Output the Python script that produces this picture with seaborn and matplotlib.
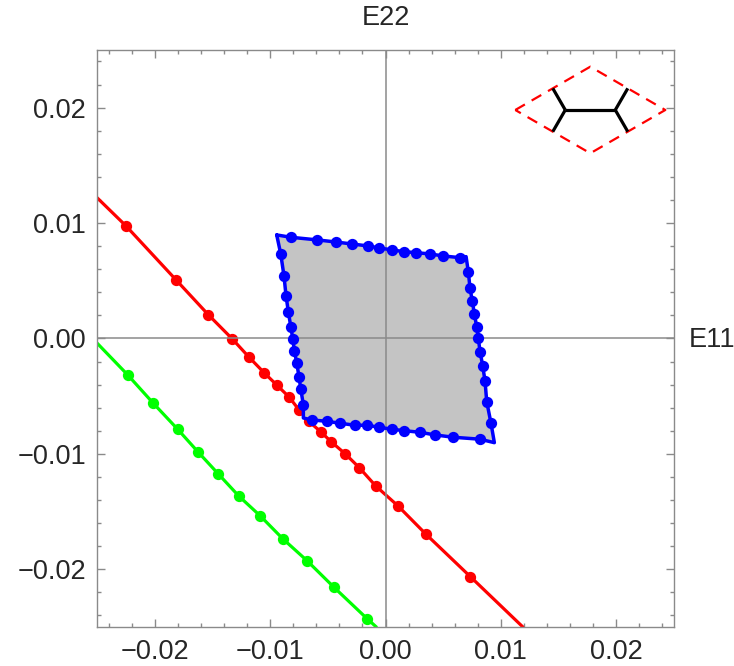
import matplotlib
matplotlib.use("Agg")
import matplotlib.pyplot as plt
import numpy as np
import pandas as pd
import seaborn as sns
from matplotlib.ticker import MultipleLocator, FuncFormatter

# red line: sample points and the two ends where it leaves the frame
red_x = [-0.02251, -0.01815, -0.01536, -0.01328, -0.01185, -0.01050, -0.00940, -0.00836,
         -0.00752, -0.00665, -0.00562, -0.00472, -0.00348, -0.00227, -0.00085, 0.00108,
         0.00351, 0.00735]
red_y = [0.00977, 0.00507, 0.00206, -0.00004, -0.00160, -0.00299, -0.00406, -0.00507,
         -0.00616, -0.00718, -0.00808, -0.00894, -0.01001, -0.01120, -0.01278, -0.01451,
         -0.01697, -0.02064]
red_ends_x = [-0.0250, 0.0119]
red_ends_y = [0.0122, -0.0250]

# green line
green_x = [-0.02234, -0.02012, -0.01801, -0.01625, -0.01449, -0.01272, -0.01085, -0.00891,
           -0.00680, -0.00449, -0.00160]
green_y = [-0.00316, -0.00562, -0.00787, -0.00983, -0.01174, -0.01365, -0.01538, -0.01735,
           -0.01926, -0.02154, -0.02428]
green_ends_x = [-0.0250, -0.0008]
green_ends_y = [-0.0004, -0.0250]

# blue region: corners (TL, TR, BR, BL) and the sampled points along each side
blue_corner_x = [-0.00943, 0.00698, 0.00943, -0.00712]
blue_corner_y = [0.00897, 0.00709, -0.00903, -0.00689]
top_x = [-0.00821, -0.00591, -0.00432, -0.00293, -0.00154, -0.00054, 0.00059, 0.00160,
         0.00262, 0.00386, 0.00501, 0.00646]
top_y = [0.00877, 0.00854, 0.00836, 0.00819, 0.00802, 0.00784, 0.00767, 0.00752,
         0.00744, 0.00732, 0.00715, 0.00700]
right_x = [0.00718, 0.00732, 0.00752, 0.00770, 0.00790, 0.00804, 0.00819, 0.00842, 0.00862,
           0.00877, 0.00914]
right_y = [0.00574, 0.00435, 0.00325, 0.00210, 0.00102, 0.00002, -0.00114, -0.00236, -0.00368,
           -0.00548, -0.00735]
bottom_x = [0.00819, 0.00588, 0.00429, 0.00299, 0.00160, 0.00059, -0.00054, -0.00158, -0.00264,
            -0.00394, -0.00504, -0.00640]
bottom_y = [-0.00873, -0.00856, -0.00836, -0.00813, -0.00799, -0.00787, -0.00770, -0.00752,
            -0.00752, -0.00735, -0.00718, -0.00706]
left_x = [-0.00712, -0.00735, -0.00750, -0.00769, -0.00790, -0.00804, -0.00821, -0.00842,
          -0.00862, -0.00880, -0.00908]
left_y = [-0.00576, -0.00435, -0.00331, -0.00215, -0.00106, -0.00002, 0.00102, 0.00230,
          0.00368, 0.00542, 0.00732]

# inset: honeycomb unit cell, in units of the bond length
cell_x = [-1.5, 0.0, 1.5, 0.0, -1.5]
cell_y = [0.0, 0.866, 0.0, -0.866, 0.0]
bond_x = [[-0.5, 0.5], [-0.75, -0.5], [-0.75, -0.5], [0.5, 0.75], [0.5, 0.75]]
bond_y = [[0.0, 0.0], [0.433, 0.0], [-0.433, 0.0], [0.0, 0.433], [0.0, -0.433]]

sns.set_style("ticks")
plt.rcParams['font.family'] = ['Liberation Sans', 'DejaVu Sans']
plt.rcParams['axes.unicode_minus'] = True

frame_col = '#8a8a8a'
fig = plt.figure(figsize=(7.34, 6.66), dpi=100)
ax = fig.add_axes([0.1322, 0.0586, 0.7861, 0.8664])

# lines run through the sample points out to the frame
red_path = pd.DataFrame({'x': red_ends_x[:1] + red_x + red_ends_x[1:],
                         'y': red_ends_y[:1] + red_y + red_ends_y[1:]})
green_path = pd.DataFrame({'x': green_ends_x[:1] + green_x + green_ends_x[1:],
                           'y': green_ends_y[:1] + green_y + green_ends_y[1:]})
sns.lineplot(data=red_path, x='x', y='y', sort=False, estimator=None, color='#ff0000', lw=2.3, ax=ax, zorder=2)
sns.scatterplot(x=red_x, y=red_y, color='#ff0000', s=66, linewidth=0, ax=ax, zorder=3)
sns.lineplot(data=green_path, x='x', y='y', sort=False, estimator=None, color='#00ff00', lw=2.3, ax=ax, zorder=2)
sns.scatterplot(x=green_x, y=green_y, color='#00ff00', s=66, linewidth=0, ax=ax, zorder=3)

# blue region outline: corner, side points, corner, ...
cx, cy = blue_corner_x, blue_corner_y
outline_x = [cx[0]] + top_x + [cx[1]] + right_x + [cx[2]] + bottom_x + [cx[3]] + left_x + [cx[0]]
outline_y = [cy[0]] + top_y + [cy[1]] + right_y + [cy[2]] + bottom_y + [cy[3]] + left_y + [cy[0]]
ax.fill(outline_x, outline_y, color='#c4c4c4', zorder=4)
ax.axhline(0, color=frame_col, lw=1.1, zorder=4.5)
ax.axvline(0, color=frame_col, lw=1.1, zorder=4.5)
ax.plot(outline_x, outline_y, color='#0000ff', lw=2.5, zorder=5)
sns.scatterplot(x=top_x + right_x + bottom_x + left_x, y=top_y + right_y + bottom_y + left_y,
                color='#0000ff', s=66, linewidth=0, ax=ax, zorder=6)

ax.set_xlim(-0.025, 0.025)
ax.set_ylim(-0.025, 0.025)
ax.set_xlabel('')
ax.set_ylabel('')

fmt = FuncFormatter(lambda v, p: '0.00' if abs(v) < 1e-9 else f'{v:.2f}'.replace('-', '\u2212'))
for axis in (ax.xaxis, ax.yaxis):
    axis.set_major_locator(MultipleLocator(0.01))
    axis.set_minor_locator(MultipleLocator(0.002))
    axis.set_major_formatter(fmt)
ax.tick_params(which='both', direction='in', top=True, right=True, color=frame_col, width=1)
ax.tick_params(which='major', length=6, labelsize=19.5, pad=9)
ax.tick_params(which='minor', length=3)
ax.tick_params(axis='y', which='major', pad=8)
for sp in ax.spines.values():
    sp.set_color(frame_col)
    sp.set_linewidth(1)

ax.text(0, 0.0278, 'E22', ha='center', va='center', fontsize=19.5, clip_on=False)
ax.text(0.0283, -0.0001, 'E11', ha='center', va='center', fontsize=19.5, clip_on=False)

# inset cell drawing
ins = fig.add_axes([0.6952, 0.7673, 0.218, 0.1351])
ins.plot(cell_x, cell_y, color='#ff0000', lw=1.6, ls=(0, (5, 3.5)))
for bx, by in zip(bond_x, bond_y):
    ins.plot(bx, by, color='black', lw=2.3, solid_capstyle='butt')
ins.set_xlim(-1.6, 1.6)
ins.set_ylim(-0.9, 0.9)
ins.axis('off')

fig.savefig('out.png', dpi=100)
